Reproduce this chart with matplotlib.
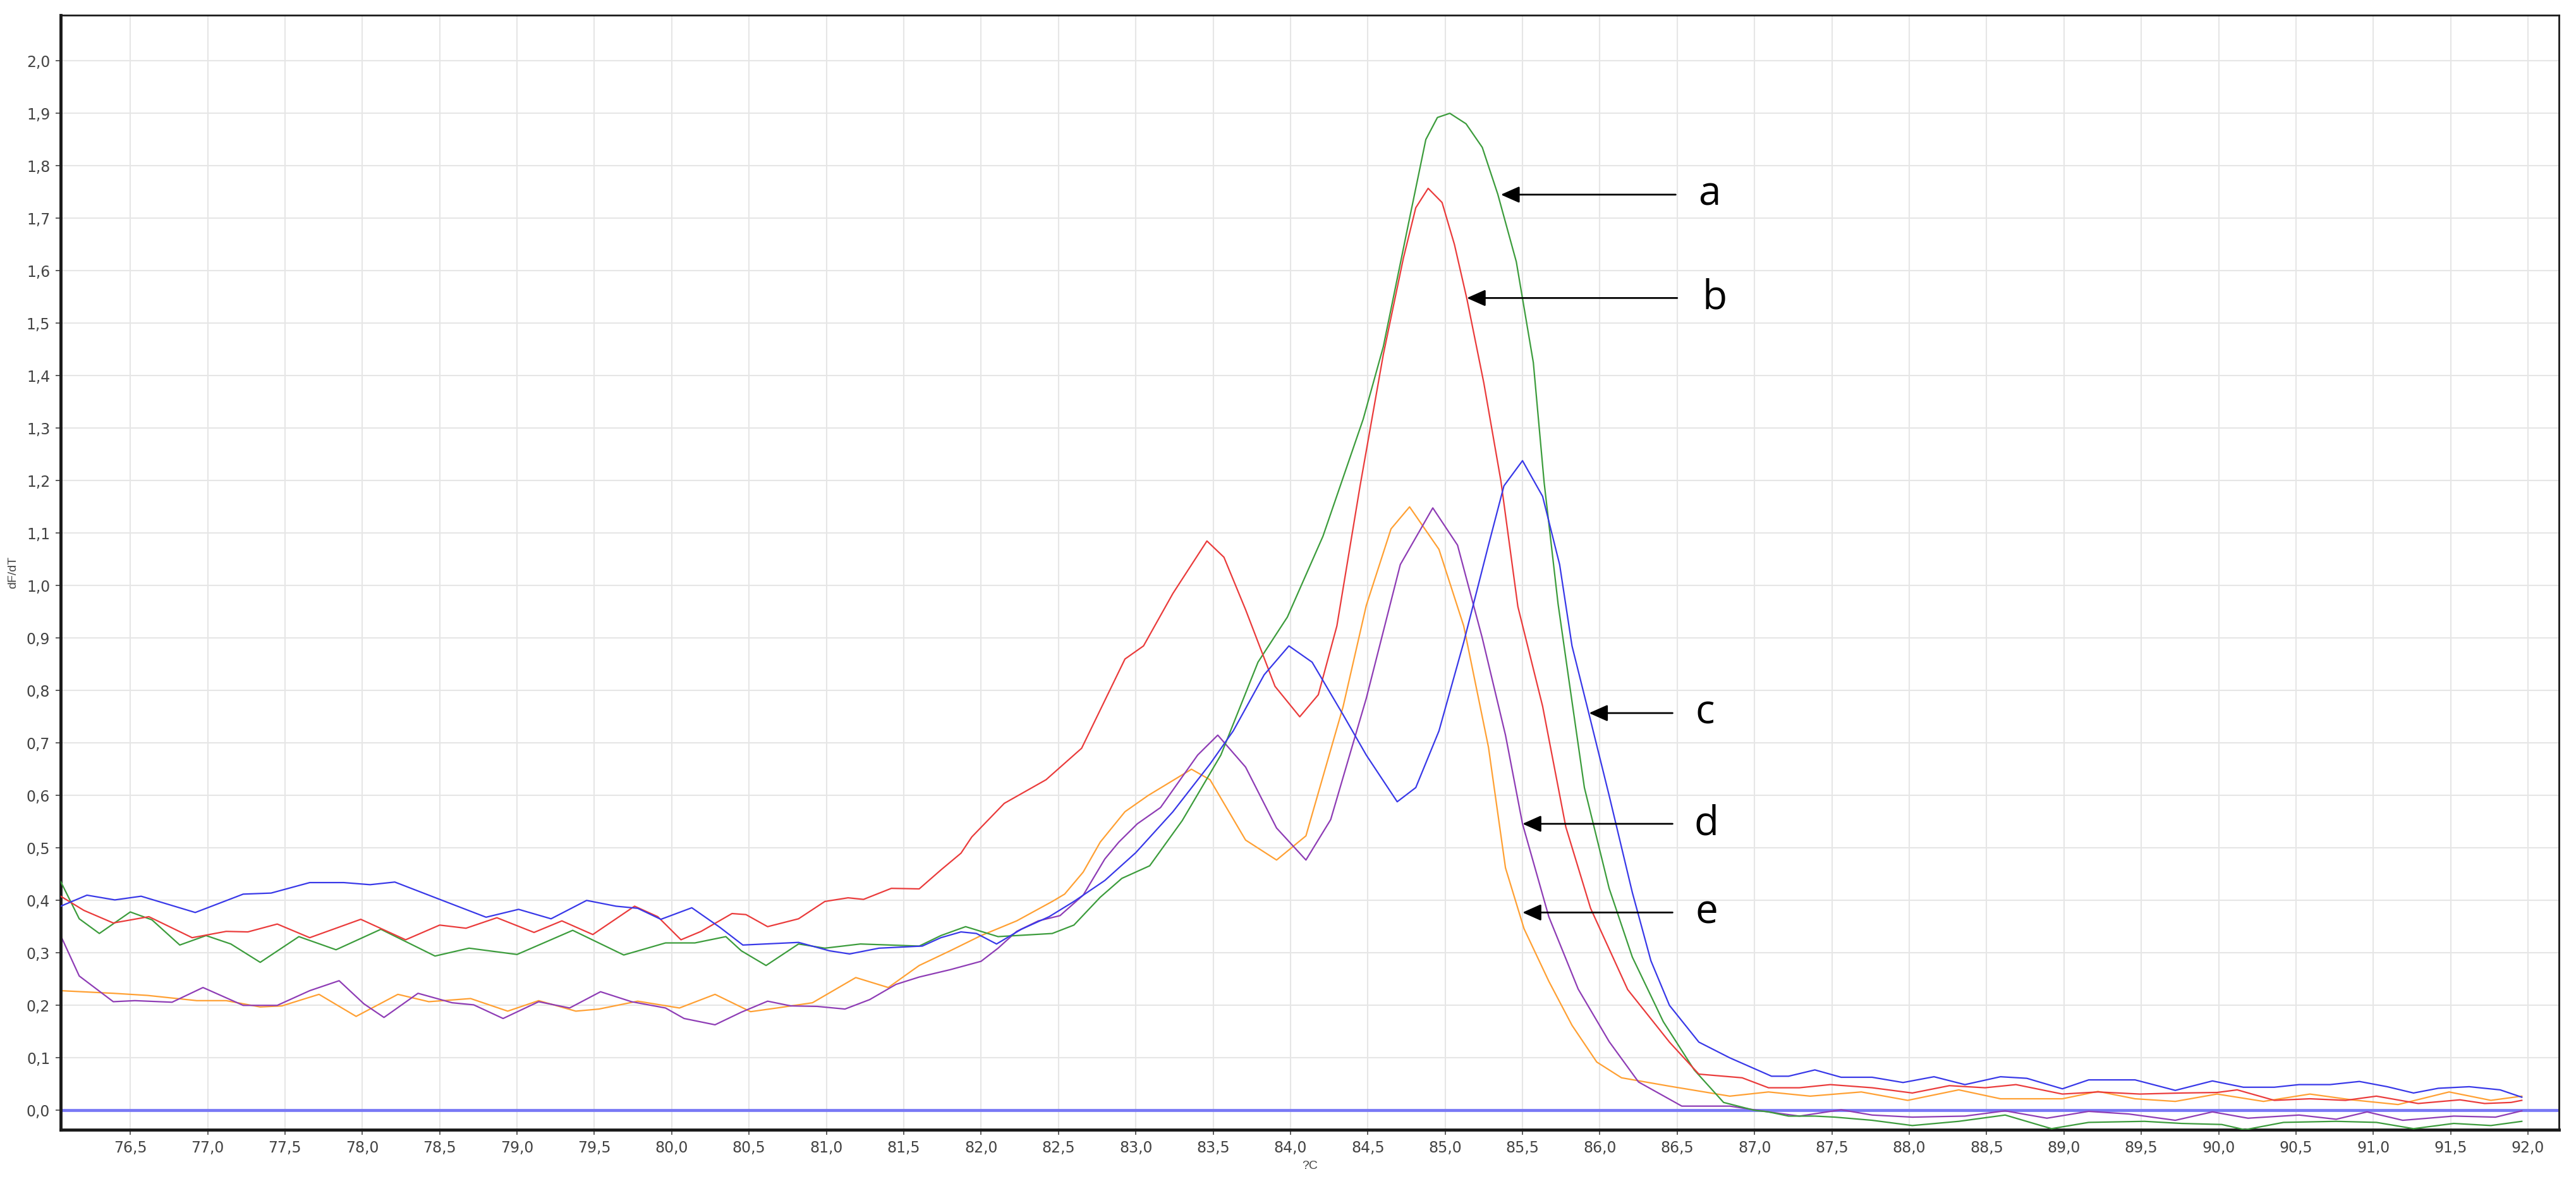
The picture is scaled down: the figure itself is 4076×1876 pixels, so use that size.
import numpy as np
import matplotlib
matplotlib.use("Agg")
import matplotlib.pyplot as plt

# melting curve derivative readings (temperature in C, dF/dT)
green_x = [76.05, 76.17, 76.3, 76.5, 76.64, 76.82, 76.99, 77.15, 77.34, 77.59, 77.83, 78.12, 78.47, 78.69,
           79.0, 79.36, 79.69, 79.96, 80.15, 80.35, 80.45, 80.61, 80.82, 80.99, 81.22, 81.6, 81.74, 81.9,
           82.11, 82.46, 82.6, 82.77, 82.91, 83.09, 83.3, 83.55, 83.79, 83.98, 84.21, 84.47, 84.6, 84.77,
           84.875, 84.95, 85.03, 85.135, 85.24, 85.34, 85.46, 85.57, 85.64, 85.73, 85.8, 85.9, 86.06, 86.21,
           86.41, 86.61, 86.8, 87.0, 87.09, 87.22, 87.39, 87.52, 87.76, 88.02, 88.32, 88.62, 88.92, 89.16,
           89.52, 89.76, 90.02, 90.17, 90.42, 90.76, 91.02, 91.26, 91.52, 91.76, 91.96]
green_y = [0.436, 0.365, 0.337, 0.378, 0.363, 0.315, 0.333, 0.317, 0.282, 0.331, 0.306, 0.345, 0.294, 0.309,
           0.297, 0.343, 0.296, 0.319, 0.319, 0.331, 0.304, 0.276, 0.317, 0.309, 0.317, 0.313, 0.333, 0.35,
           0.331, 0.337, 0.353, 0.406, 0.442, 0.466, 0.552, 0.677, 0.854, 0.94, 1.094, 1.317, 1.455, 1.7,
           1.85, 1.892, 1.90, 1.88, 1.835, 1.746, 1.617, 1.425, 1.196, 0.965, 0.82, 0.615, 0.423, 0.292,
           0.169, 0.077, 0.015, 0.0, -0.003, -0.011, -0.011, -0.013, -0.019, -0.029, -0.021, -0.009, -0.035, -0.023,
           -0.021, -0.025, -0.027, -0.037, -0.023, -0.021, -0.023, -0.035, -0.025, -0.029, -0.021]

red_x = [76.05, 76.2, 76.39, 76.62, 76.9, 77.12, 77.26, 77.45, 77.66, 77.99, 78.28, 78.5, 78.67, 78.87,
         79.11, 79.29, 79.49, 79.76, 79.91, 80.06, 80.19, 80.39, 80.48, 80.62, 80.82, 80.99, 81.14, 81.24,
         81.42, 81.6, 81.74, 81.87, 81.94, 82.15, 82.42, 82.65, 82.93, 83.05, 83.24, 83.46, 83.57, 83.71,
         83.9, 84.06, 84.18, 84.3, 84.45, 84.6, 84.73, 84.81, 84.89, 84.98, 85.06, 85.14, 85.25, 85.36, 85.47, 85.63,
         85.78, 85.94, 86.18, 86.45, 86.64, 86.92, 87.09, 87.29, 87.49, 87.76, 88.02, 88.26, 88.49, 88.69,
         88.99, 89.22, 89.49, 89.76, 89.99, 90.12, 90.36, 90.59, 90.82, 91.02, 91.29, 91.56, 91.72, 91.89, 91.96]
red_y = [0.408, 0.381, 0.357, 0.369, 0.329, 0.341, 0.34, 0.355, 0.329, 0.364, 0.325, 0.353, 0.347, 0.367,
         0.339, 0.361, 0.335, 0.389, 0.369, 0.325, 0.341, 0.375, 0.373, 0.35, 0.365, 0.398, 0.405, 0.402,
         0.423, 0.422, 0.458, 0.49, 0.521, 0.585, 0.63, 0.69, 0.86, 0.885, 0.985, 1.085, 1.054, 0.954,
         0.808, 0.75, 0.792, 0.923, 1.19, 1.44, 1.624, 1.72, 1.757, 1.73, 1.65, 1.547, 1.386, 1.2, 0.96, 0.77,
         0.54, 0.385, 0.23, 0.13, 0.069, 0.062, 0.043, 0.043, 0.049, 0.043, 0.033, 0.047, 0.043, 0.049,
         0.031, 0.035, 0.031, 0.033, 0.034, 0.039, 0.019, 0.022, 0.019, 0.027, 0.013, 0.02, 0.013, 0.015, 0.019]

blue_x = [76.05, 76.22, 76.4, 76.57, 76.92, 77.23, 77.41, 77.66, 77.88, 78.05, 78.21, 78.5, 78.8, 79.01,
          79.22, 79.45, 79.64, 79.78, 79.93, 80.13, 80.31, 80.46, 80.82, 81.02, 81.15, 81.34, 81.62, 81.74,
          81.87, 81.97, 82.1, 82.26, 82.44, 82.6, 82.8, 83.0, 83.24, 83.48, 83.63, 83.83, 83.99, 84.14,
          84.34, 84.49, 84.69, 84.81, 84.96, 85.12, 85.28, 85.38, 85.5, 85.63, 85.74, 85.82, 85.93, 86.06,
          86.21, 86.33, 86.45, 86.64, 86.84, 87.11, 87.22, 87.39, 87.56, 87.76, 87.96, 88.16, 88.36, 88.59,
          88.76, 88.99, 89.16, 89.46, 89.72, 89.96, 90.16, 90.36, 90.52, 90.72, 90.91, 91.09, 91.26, 91.42,
          91.62, 91.82, 91.96]
blue_y = [0.389, 0.41, 0.401, 0.408, 0.377, 0.412, 0.414, 0.434, 0.434, 0.43, 0.435, 0.402, 0.368, 0.383,
          0.365, 0.4, 0.389, 0.385, 0.364, 0.386, 0.349, 0.315, 0.32, 0.304, 0.298, 0.309, 0.313, 0.329,
          0.34, 0.337, 0.317, 0.345, 0.369, 0.398, 0.438, 0.491, 0.569, 0.66, 0.723, 0.83, 0.885, 0.854,
          0.754, 0.677, 0.588, 0.615, 0.723, 0.892, 1.077, 1.19, 1.238, 1.17, 1.04, 0.885, 0.755, 0.6,
          0.415, 0.285, 0.2, 0.13, 0.1, 0.065, 0.065, 0.077, 0.063, 0.063, 0.053, 0.064, 0.049, 0.064,
          0.061, 0.041, 0.058, 0.058, 0.038, 0.056, 0.044, 0.044, 0.049, 0.049, 0.055, 0.045, 0.033, 0.042,
          0.045, 0.039, 0.025]

purple_x = [76.05, 76.17, 76.39, 76.53, 76.77, 76.97, 77.23, 77.45, 77.66, 77.85, 78.01, 78.14, 78.36, 78.58,
            78.72, 78.91, 79.14, 79.34, 79.54, 79.74, 79.96, 80.08, 80.28, 80.45, 80.62, 80.77, 80.94, 81.12,
            81.28, 81.45, 81.6, 81.8, 82.0, 82.11, 82.23, 82.37, 82.51, 82.66, 82.8, 82.89, 83.01, 83.16,
            83.4, 83.53, 83.71, 83.91, 84.1, 84.26, 84.49, 84.71, 84.92, 85.08, 85.24, 85.39, 85.5, 85.67,
            85.86, 86.06, 86.25, 86.53, 86.84, 87.09, 87.29, 87.56, 87.76, 88.02, 88.36, 88.62, 88.89, 89.16,
            89.42, 89.72, 89.96, 90.19, 90.52, 90.76, 90.96, 91.19, 91.52, 91.79, 91.96]
purple_y = [0.333, 0.256, 0.207, 0.209, 0.206, 0.234, 0.2, 0.2, 0.228, 0.247, 0.203, 0.177, 0.223, 0.205,
            0.201, 0.175, 0.207, 0.195, 0.226, 0.207, 0.195, 0.175, 0.163, 0.187, 0.208, 0.199, 0.198, 0.193,
            0.211, 0.24, 0.254, 0.268, 0.284, 0.309, 0.341, 0.361, 0.371, 0.41, 0.479, 0.511, 0.546, 0.577,
            0.677, 0.715, 0.654, 0.538, 0.477, 0.554, 0.785, 1.04, 1.148, 1.077, 0.9, 0.715, 0.546, 0.369,
            0.231, 0.131, 0.054, 0.008, 0.008, -0.003, -0.011, 0.001, -0.009, -0.013, -0.011, -0.001, -0.015, -0.002,
            -0.007, -0.019, -0.003, -0.015, -0.009, -0.017, -0.003, -0.019, -0.011, -0.013, -0.001]

orange_x = [76.05, 76.39, 76.61, 76.93, 77.12, 77.34, 77.48, 77.72, 77.96, 78.23, 78.43, 78.7, 78.94, 79.14,
            79.38, 79.53, 79.78, 80.05, 80.28, 80.51, 80.68, 80.91, 81.19, 81.4, 81.6, 81.8, 82.0, 82.23,
            82.46, 82.54, 82.66, 82.77, 82.93, 83.08, 83.36, 83.48, 83.71, 83.91, 84.1, 84.34, 84.49, 84.65,
            84.77, 84.96, 85.12, 85.28, 85.39, 85.51, 85.67, 85.82, 85.98, 86.14, 86.45, 86.84, 87.09, 87.36,
            87.69, 87.99, 88.32, 88.59, 88.99, 89.22, 89.46, 89.72, 89.99, 90.29, 90.59, 90.86, 91.16, 91.49,
            91.76, 91.96]
orange_y = [0.228, 0.223, 0.219, 0.209, 0.209, 0.197, 0.199, 0.221, 0.179, 0.221, 0.207, 0.213, 0.189, 0.209,
            0.189, 0.193, 0.208, 0.195, 0.221, 0.188, 0.195, 0.205, 0.253, 0.234, 0.276, 0.304, 0.333, 0.361,
            0.398, 0.412, 0.454, 0.511, 0.569, 0.6, 0.65, 0.63, 0.515, 0.477, 0.523, 0.769, 0.962, 1.108,
            1.15, 1.069, 0.923, 0.692, 0.462, 0.346, 0.246, 0.162, 0.092, 0.062, 0.046, 0.027, 0.035, 0.027,
            0.035, 0.019, 0.039, 0.022, 0.022, 0.036, 0.022, 0.017, 0.031, 0.017, 0.031, 0.02, 0.011, 0.035,
            0.019, 0.027]

# arrow labels: letter, tip (x, y), tail x
labels = ["a", "b", "c", "d", "e"]
tip_x = [85.36, 85.14, 85.93, 85.5, 85.5]
tip_y = [1.745, 1.548, 0.757, 0.546, 0.377]
tail_x = [86.49, 86.5, 86.47, 86.47, 86.47]
text_x = [86.71, 86.74, 86.68, 86.69, 86.69]

xticks = np.arange(76.5, 92.01, 0.5)
yticks = np.arange(0.0, 2.01, 0.1)

fig = plt.figure(figsize=(40.76, 18.76), dpi=100)
ax = fig.add_axes([96 / 4076, 1 - 1787 / 1876, (4049 - 96) / 4076, (1787 - 24) / 1876])

ax.axhline(0.0, color="#7878f5", lw=3.4, zorder=1)

ax.plot(orange_x, orange_y, color="#ffa033", lw=1.6, zorder=2)
ax.plot(purple_x, purple_y, color="#8e3cb5", lw=1.6, zorder=2)
ax.plot(green_x, green_y, color="#3c9c3c", lw=1.6, zorder=3)
ax.plot(red_x, red_y, color="#ea3b3b", lw=1.6, zorder=3)
ax.plot(blue_x, blue_y, color="#3838e8", lw=1.6, zorder=4)

for lab, tx, ty, sx, lx in zip(labels, tip_x, tip_y, tail_x, text_x):
    ax.annotate("", xy=(tx, ty), xytext=(sx, ty),
                arrowprops=dict(arrowstyle="-|>,head_length=0.9,head_width=0.4", color="black",
                                lw=2.0, mutation_scale=20, shrinkA=0, shrinkB=0), zorder=6)
    ax.text(lx, ty, lab, fontsize=46, family="Open Sans", ha="center", va="center", color="black")

ax.set_xlim(76.05, 92.2)
ax.set_ylim(-0.037, 2.087)
ax.set_xticks(xticks)
ax.set_yticks(yticks)
ax.set_xticklabels([f"{v:.1f}".replace(".", ",") for v in xticks])
ax.set_yticklabels([f"{v:.1f}".replace(".", ",") for v in yticks])
ax.tick_params(labelsize=17, colors="#444444", length=6, width=1.2, pad=6)
for t in ax.get_xticklabels() + ax.get_yticklabels():
    t.set_family("Liberation Sans Narrow")

ax.grid(True, color="#e6e6e6", lw=1.5, zorder=0)
ax.set_axisbelow(True)

ax.spines["left"].set_linewidth(3.5)
ax.spines["bottom"].set_linewidth(3.5)
ax.spines["top"].set_linewidth(2)
ax.spines["right"].set_linewidth(2)
for s in ax.spines.values():
    s.set_color("#1a1a1a")

ax.set_ylabel("dF/dT", fontsize=14, color="#444444", family="Liberation Sans")
ax.yaxis.set_label_coords(-0.017, 0.5)
ax.set_xlabel("?C", fontsize=14, color="#444444", family="Liberation Sans")
ax.xaxis.set_label_coords(0.5, -0.028)

fig.savefig("out.png", dpi=100)
